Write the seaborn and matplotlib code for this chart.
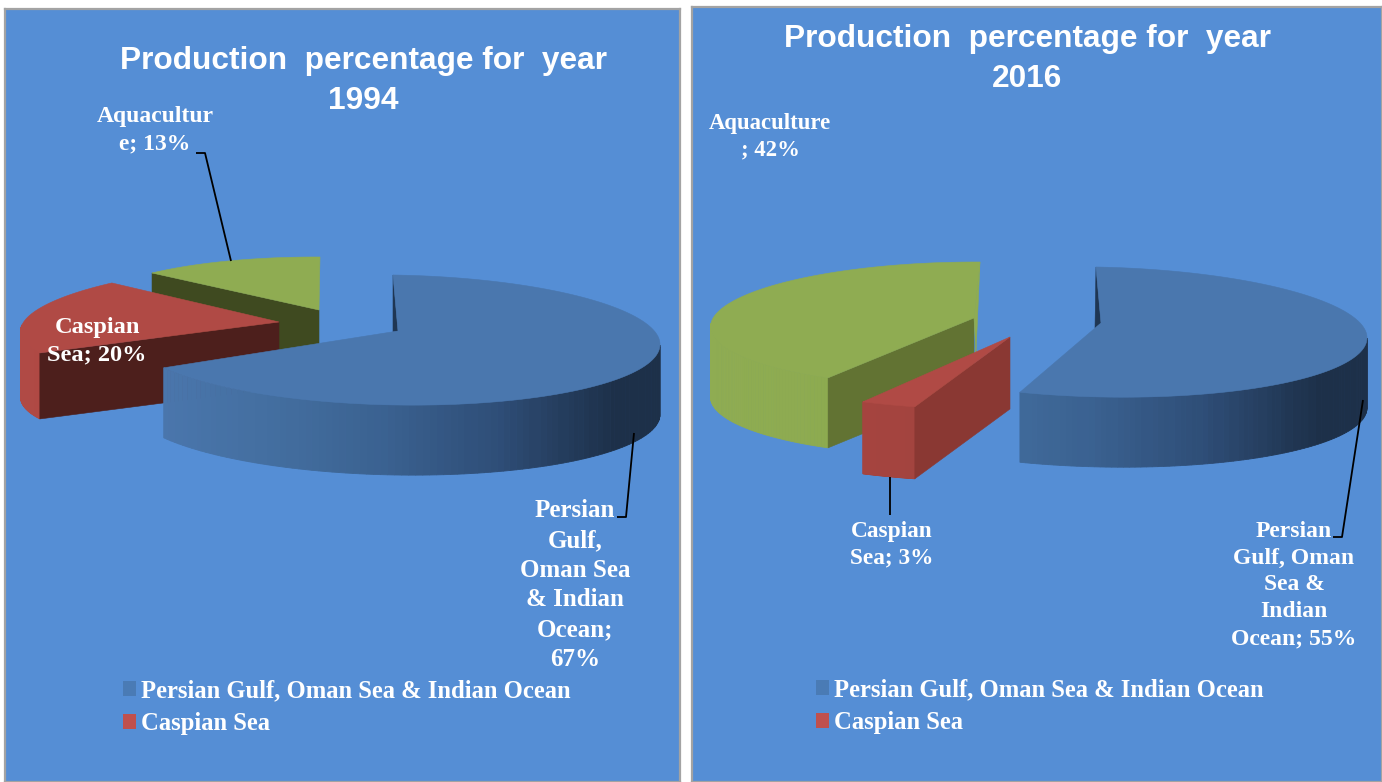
import numpy as np
import matplotlib
matplotlib.use("Agg")
import matplotlib.pyplot as plt
from matplotlib.patches import Patch
import seaborn as sns

# ---- data -------------------------------------------------------------
SEGMENTS = ["Persian Gulf, Oman Sea & Indian Ocean", "Caspian Sea", "Aquaculture"]
YEARS = [1994, 2016]
SHARES_1994 = [67, 20, 13]
SHARES_2016 = [55, 3, 42]
LEGEND_SEGMENTS = SEGMENTS[:2]

LABELS_1994 = ["Persian\nGulf,\nOman Sea\n& Indian\nOcean;\n{}%", "Caspian\nSea; {}%", "Aquacultur\ne; {}%"]
LABELS_2016 = ["Persian\nGulf, Oman\nSea &\nIndian\nOcean; {}%", "Caspian\nSea; {}%", "Aquaculture\n; {}%"]
TITLE_TEXT = "Production  percentage for  year"

# ---- styling ----------------------------------------------------------
W, H, DPI = 1382, 782, 100
PANEL = "#558ed5"
EDGE = "#a3a3a3"
TOP = ["#4a77ae", "#b04a45", "#8fac52"]
LEGEND_COL = ["#4a7bb5", "#c0504d"]
WALL_RAMP = [
    ["#4a76ac", "#436e9f", "#3a6190", "#2e4d76", "#1d3049"],
    ["#b04a45", "#a5443f", "#a04340"],
    ["#8fac52", "#8dab50", "#8ba84f"],
]
TITLE_FONT = dict(family="Liberation Sans", weight="bold", color="white", size=22.8)
LABEL_FONT = dict(family="Liberation Serif", weight="bold", color="white")
LEGEND_SIZE = 17.7

# Oblique projection of each slice: x = cx + xs*sin + xc*cos, y = cy + ys*sin + yc*cos
LAYOUTS = {
    1994: dict(
        panel=(5, 680, 9),
        title=(363, 61, 101),
        slices=[
            dict(centre=(395, 340), apex=(398, 331), xs=265, xc=-2, ys=4, yc=-65, depth=70,
                 sliver=(-5, 1), sliver_col="#1f3653", shade=(160, 610)),
            dict(centre=(279, 322), apex=(279, 322), xs=256.8, xc=29.3, ys=-2.5, yc=-59.7, depth=66,
                 face="#4d1f1c", shade=(22, 279)),
            dict(centre=(319, 310), apex=(319, 310), xs=230, xc=1, ys=1, yc=-53, depth=62,
                 face="#3f4a20", shade=(89, 319)),
        ],
        label_at=[(575, 585), (97, 341), (155, 130)],
        label_size=[18, 17.6, 17],
        leaders=[[(617, 517), (626, 517), (634, 433)], [(196, 153), (205, 153), (231, 261)]],
        legend=(116, 672),
    ),
    2016: dict(
        panel=(692, 1382, 7),
        title=(1027, 39, 79),
        slices=[
            dict(centre=(1099.4, 332), apex=(1101, 323), xs=267.6, xc=-3.4, ys=5, yc=-65, depth=70,
                 sliver=(-6, 5), sliver_col="#1f3653", shade=(865, 1315)),
            dict(centre=(1010, 337), apex=(1010, 337), xs=301.5, xc=2.1, ys=-2.7, yc=-72.5, depth=72,
                 face="#8a3833", shade=(708, 1010)),
            dict(centre=(964, 324), apex=(974, 318), xs=253, xc=16, ys=1, yc=-62, depth=70,
                 face="#627333", side=(2, 36), shade=(711, 964)),
        ],
        label_at=[(1294, 585), (892, 545), (770, 137)],
        label_size=[17, 16.8, 16.4],
        leaders=[[(1333, 537), (1342, 537), (1363, 400)], [(890, 477), (890, 515)]],
        legend=(809, 671),
    ),
}


def rim(p, theta):
    s, c = np.sin(theta), np.cos(theta)
    cx, cy = p["centre"]
    return cx + p["xs"] * s + p["xc"] * c, cy + p["ys"] * s + p["yc"] * c


def draw_slice(ax, p, t0, t1, top, ramp, z):
    """Extruded pie slice spanning clockwise angles t0..t1 (radians from north)."""
    apex = np.array(p["apex"], float)
    depth = np.array([0, p["depth"]])
    arc = np.linspace(t0, t1, 160)
    xr, yr = rim(p, arc)
    r0 = np.array([xr[0], yr[0]])
    r1 = np.array([xr[-1], yr[-1]])

    # outer wall, only where the rim faces the viewer, shaded across its width
    front = np.cos(arc) <= 0.001
    if front.any():
        fx, fy = xr[front], yr[front]
        shades = sns.blend_palette(ramp, 64)
        lo, hi = p["shade"]
        for i in range(len(fx) - 1):
            u = (0.5 * (fx[i] + fx[i + 1]) - lo) / (hi - lo)
            col = shades[int(np.clip(u, 0, 1) * 63)]
            ax.fill([fx[i], fx[i + 1], fx[i + 1], fx[i]],
                    [fy[i], fy[i + 1], fy[i + 1] + depth[1], fy[i] + depth[1]],
                    color=col, lw=0.6, zorder=z)

    # radial cut face at the start of the slice
    if "face" in p:
        ax.fill(*np.array([apex, r0, r0 + depth, apex + depth]).T,
                color=p["face"], lw=0.4, zorder=z + 1)

    # thin glimpse of the far cut face
    if "sliver" in p:
        ax.fill(*np.array([r0, apex, apex + np.array(p["sliver"])]).T,
                color=p["sliver_col"], lw=0.4, zorder=z + 1)
    if "side" in p:
        ax.fill(*np.array([r1, apex, apex + np.array(p["side"]),
                           r1 + np.array([-4, 91])]).T,
                color=top, lw=0.4, zorder=z + 1)

    # top surface
    ax.fill(np.r_[apex[0], xr], np.r_[apex[1], yr], color=top, lw=0.4, zorder=z + 2)


sns.set_theme(style="white", rc={"figure.dpi": DPI, "savefig.dpi": DPI})
fig = plt.figure(figsize=(W / DPI, H / DPI), facecolor="white")

for year, shares, labels in zip(YEARS, [SHARES_1994, SHARES_2016], [LABELS_1994, LABELS_2016]):
    lay = LAYOUTS[year]
    x0, x1, y0 = lay["panel"]
    ax = fig.add_axes([x0 / W, 0, (x1 - x0) / W, 1 - y0 / H])
    ax.set_xlim(x0, x1)
    ax.set_ylim(H, y0)
    ax.set_facecolor(PANEL)
    ax.set_xticks([])
    ax.set_yticks([])
    for sp in ax.spines.values():
        sp.set_color(EDGE)
        sp.set_linewidth(1.6)

    edges = np.deg2rad(np.r_[0, np.cumsum(shares)] * 3.6)
    # back slices first so the largest slice overlaps them
    for rank, i in enumerate([2, 1, 0]):
        draw_slice(ax, lay["slices"][i], edges[i], edges[i + 1], TOP[i], WALL_RAMP[i], 2 + 3 * rank)

    for pts in lay["leaders"]:
        ax.plot(*zip(*pts), color="black", lw=1.3, zorder=50, solid_capstyle="butt")

    tx, ty1, ty2 = lay["title"]
    ax.text(tx, ty1, TITLE_TEXT, ha="center", va="center", zorder=60, **TITLE_FONT)
    ax.text(tx, ty2, str(year), ha="center", va="center", zorder=60, **TITLE_FONT)

    for (lx, ly), tmpl, v, size in zip(lay["label_at"], labels, shares, lay["label_size"]):
        ax.text(lx, ly, tmpl.format(v), ha="center", va="center", multialignment="center",
                linespacing=1.37, size=size, zorder=60, **LABEL_FONT)

    handles = [Patch(facecolor=c, edgecolor="none", label=n) for c, n in zip(LEGEND_COL, LEGEND_SEGMENTS)]
    ax.legend(handles=handles, loc="upper left", bbox_to_anchor=lay["legend"],
              bbox_transform=ax.transData, frameon=False, borderpad=0.3, borderaxespad=0,
              handlelength=0.52, handleheight=0.56, handletextpad=0.2, labelspacing=0.38,
              prop=dict(family="Liberation Serif", weight="bold", size=LEGEND_SIZE),
              labelcolor="white")

fig.savefig("out.png", dpi=DPI, facecolor="white")
